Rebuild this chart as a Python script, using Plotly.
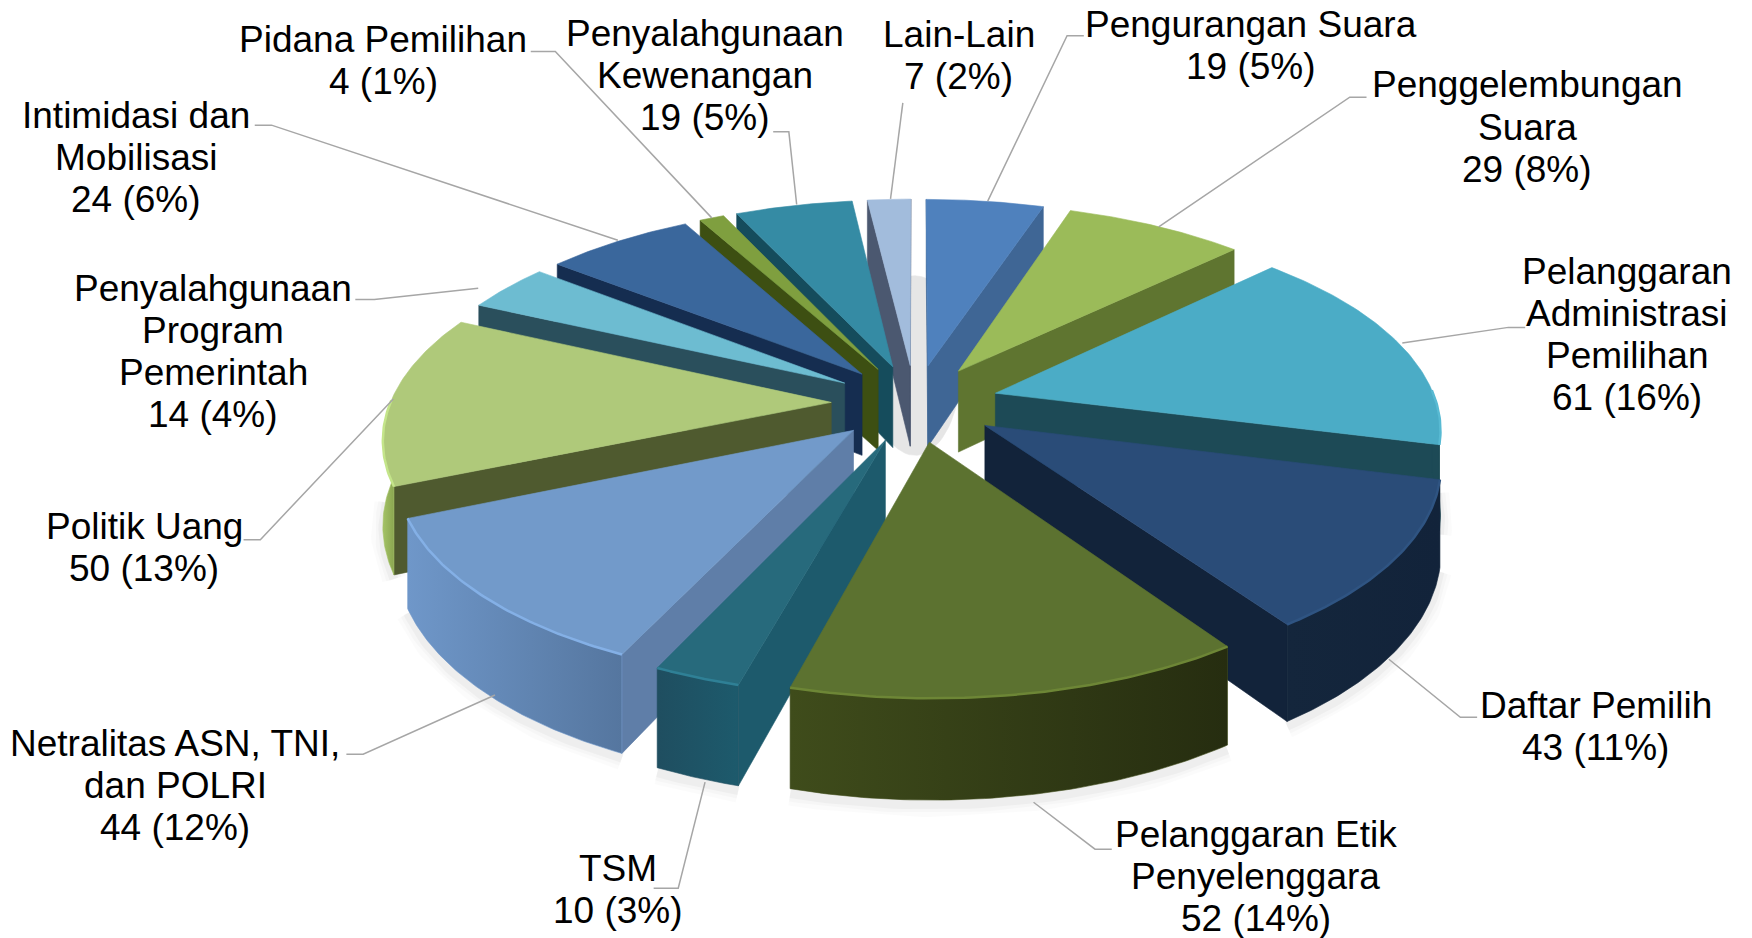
import numpy as np
import plotly.graph_objects as go

# ---------- data ----------
categories = ["Pengurangan Suara", "Penggelembungan Suara", "Pelanggaran Administrasi Pemilihan",
              "Daftar Pemilih", "Pelanggaran Etik Penyelenggara", "TSM",
              "Netralitas ASN, TNI, dan POLRI", "Politik Uang", "Penyalahgunaan Program Pemerintah",
              "Intimidasi dan Mobilisasi", "Pidana Pemilihan", "Penyalahgunaan Kewenangan", "Lain-Lain"]
values = [19, 29, 61, 43, 52, 10, 44, 50, 14, 24, 4, 19, 7]
label_lines = [["Pengurangan Suara"], ["Penggelembungan", "Suara"],
               ["Pelanggaran", "Administrasi", "Pemilihan"], ["Daftar Pemilih"],
               ["Pelanggaran Etik", "Penyelenggara"], ["TSM"],
               ["Netralitas ASN, TNI,", "dan POLRI"], ["Politik Uang"],
               ["Penyalahgunaan", "Program", "Pemerintah"], ["Intimidasi dan", "Mobilisasi"],
               ["Pidana Pemilihan"], ["Penyalahgunaan", "Kewenangan"], ["Lain-Lain"]]

# ---------- styles ----------
top_colors = ["#4f81bd", "#9bbb59", "#4bacc6", "#2a4c78", "#5c7230", "#276a7c", "#729aca",
              "#afc97a", "#6dbcd1", "#3a679c", "#7f9f3f", "#358ba4", "#a2bcdc"]
cut_colors = ["#3f6695", "#5f7530", "#1d4a56", "#12233a", "#3a4a1c", "#1d5a6c", "#5f7ea8",
              "#4f5a2f", "#2a4f5c", "#152d50", "#3d4f12", "#154c5c", "#4b5870"]
wall_left = ["#3f6695", "#5f7530", "#1d4a56", "#14263c", "#3f4c1b", "#1f4e60", "#6f97c9",
             "#a4c366", "#2a4f5c", "#1a3050", "#3d4f12", "#154c5c", "#4b5870"]
wall_right = ["#3f6695", "#5f7530", "#1d4a56", "#12233a", "#262d10", "#1d5a6c", "#55769f",
              "#8aa650", "#2a4f5c", "#1a3050", "#3d4f12", "#154c5c", "#4b5870"]
bevel_colors = ["#5b8dc8", "#a8c764", "#58bad3", "#2f5482", "#6d8636", "#2f8096", "#84b0e6",
                "#c4e58a", "#7ccadf", "#4273ab", "#8fb04a", "#3d9ab5", "#b5cdea"]

# ---------- projection parameters ----------
CX, CY = 915, 403
RX, RY = 441, 203
PERSP = 0.155
EXPLODE = 0.19
DEPTH = 83
S = 1752 / 1568


def project(X, Y, drop=0.0):
    f = 1 / (1 - PERSP * np.asarray(Y, dtype=float))
    return CX + RX * np.asarray(X) * f, CY + RY * np.asarray(Y) * f + drop * f


total = sum(values)
edges = np.cumsum([0] + values) / total * 2 * np.pi
fig = go.Figure()


def poly(xs, ys, color=None, grad=None):
    kw = dict(x=list(xs), y=list(ys), mode="lines", fill="toself", line=dict(width=0.6, color=color or grad[0]),
              hoverinfo="skip", showlegend=False)
    if grad:
        kw["fillgradient"] = dict(type="horizontal", colorscale=[[0, grad[0]], [1, grad[1]]])
    else:
        kw["fillcolor"] = color
    fig.add_trace(go.Scatter(**kw))


# pale floor shadow seen through the gap at the back
t = np.linspace(0, 2 * np.pi, 80)
fx, fy = project(0.11 * np.sin(t), -0.35 + 0.48 * -np.cos(t), DEPTH * 0.3)
poly(fx, fy, "#e6e6e6")

# soft shadow beneath outer walls
for width, alpha in [(24, 0.015), (16, 0.02), (9, 0.03)]:
    for i in range(len(values)):
        a, b = edges[i], edges[i + 1]
        mid = (a + b) / 2
        ox, oy = EXPLODE * np.sin(mid), -EXPLODE * np.cos(mid)
        th = np.linspace(a, b, 50)
        th = th[np.cos(th) < -0.05]
        if len(th) < 2:
            continue
        sx, sy = project(ox + np.sin(th), oy - np.cos(th), DEPTH + 4)
        fig.add_trace(go.Scatter(x=sx, y=sy, mode="lines", hoverinfo="skip", showlegend=False,
                                 line=dict(width=width, color=f"rgba(0,0,0,{alpha})")))

# slices back to front
mids = (edges[:-1] + edges[1:]) / 2
order = np.argsort(-np.cos(mids))
cam = np.array([0, 1 / PERSP])
for i in order:
    a, b, mid = edges[i], edges[i + 1], mids[i]
    ox, oy = EXPLODE * np.sin(mid), -EXPLODE * np.cos(mid)
    apex = np.array([ox, oy])
    for th, sign in ((a, -1), (b, 1)):
        n = sign * np.array([np.cos(th), np.sin(th)])
        if n @ (cam - apex) > 0:
            px = np.array([ox, ox + np.sin(th)])
            py = np.array([oy, oy - np.cos(th)])
            x1, y1 = project(px, py)
            x2, y2 = project(px, py, DEPTH)
            poly([x1[0], x1[1], x2[1], x2[0], x1[0]], [y1[0], y1[1], y2[1], y2[0], y1[0]], cut_colors[i])
    th = np.linspace(a, b, 70)
    th = th[np.cos(th) < 0.02]
    if len(th) > 1:
        px, py = ox + np.sin(th), oy - np.cos(th)
        x1, y1 = project(px, py)
        x2, y2 = project(px, py, DEPTH)
        poly(np.r_[x1, x2[::-1], x1[0]], np.r_[y1, y2[::-1], y1[0]], grad=(wall_left[i], wall_right[i]))
    th = np.linspace(a, b, 70)
    px, py = np.r_[ox, ox + np.sin(th), ox], np.r_[oy, oy - np.cos(th), oy]
    x1, y1 = project(px, py)
    poly(x1, y1, top_colors[i])
    th = th[np.cos(th) < 0.02]
    if len(th) > 1:
        x1, y1 = project(ox + np.sin(th), oy - np.cos(th))
        fig.add_trace(go.Scatter(x=x1, y=y1, mode="lines", hoverinfo="skip", showlegend=False,
                                 line=dict(width=2.5, color=bevel_colors[i])))

# ---------- leader lines (reference pixels, shrunk scale) ----------
leaders = [
    [(970, 32), (955, 32), (884, 180)],
    [(1223, 87), (1208, 87), (1037, 203)],
    [(1365, 293), (1350, 293), (1255, 307)],
    [(1322, 642), (1307, 642), (1243, 590)],
    [(995, 760), (980, 760), (925, 718)],
    [(585, 795), (607, 795), (631, 700)],
    [(310, 675), (325, 675), (443, 622)],
    [(218, 483), (233, 483), (352, 357)],
    [(318, 268), (335, 268), (428, 258)],
    [(228, 112), (243, 112), (553, 215)],
    [(475, 46), (497, 46), (637, 195)],
    [(692, 118), (706, 118), (713, 183)],
    [(808, 92), (803, 130), (797, 178)],
]
for pts in leaders:
    fig.add_trace(go.Scatter(x=[p[0] * S for p in pts], y=[p[1] * S for p in pts], mode="lines",
                             hoverinfo="skip", showlegend=False, line=dict(width=1.5, color="#a6a6a6")))

# ---------- labels ----------
label_x = [1120, 1367, 1456, 1428, 1124, 553, 157, 129, 191, 122, 343, 631, 858]
label_y0 = [22, 76, 243, 631, 747, 777, 665, 471, 258, 103, 35, 30, 31]
LINE = 37.7
for i, lines in enumerate(label_lines):
    pct = round(values[i] / total * 100)
    for k, line in enumerate(lines + [f"{values[i]} ({pct}%)"]):
        fig.add_annotation(x=label_x[i] * S, y=(label_y0[i] + k * LINE) * S, text=line, showarrow=False,
                           xanchor="center", yanchor="middle",
                           font=dict(family="Liberation Sans, Arial, sans-serif", size=37, color="#000000"))

fig.update_layout(width=1752, height=938, margin=dict(l=0, r=0, t=0, b=0),
                  paper_bgcolor="white", plot_bgcolor="white", showlegend=False,
                  xaxis=dict(range=[0, 1752], visible=False, fixedrange=True),
                  yaxis=dict(range=[938, 0], visible=False, fixedrange=True))
fig.write_html("out.html", config={"displayModeBar": False},
               post_script="document.body.style.margin='0';")
